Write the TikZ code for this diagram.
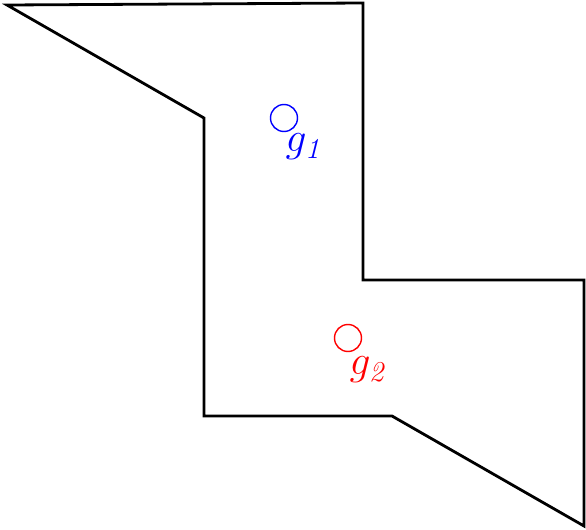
\documentclass[tikz,border=0pt]{standalone}
\begin{document}
\begin{tikzpicture}[x=0.5pt,y=-0.5pt,
  wall/.style={draw=black,line width=1.4pt,line join=miter},
  goal/.style={circle,draw,line width=0.7pt,minimum size=13.5pt,inner sep=0pt},
  glabel/.style={font=\fontsize{20}{22}\selectfont,inner sep=0pt}]
\useasboundingbox (0,0) rectangle (586,530);
\draw[wall] (7,5) -- (363,3) -- (363,280) -- (584,280) -- (584,526) -- (392,416) -- (204,416) -- (204,118) -- cycle;
\node[goal,draw=blue] (c1) at (284,118) {};
\node[glabel,text=blue] (l1) at (305,147) {$g_{\mathit{1}}$};
\node[goal,draw=red] (c2) at (348,338) {};
\node[glabel,text=red] (l2) at (369,370) {$g_{\mathit{2}}$};
\end{tikzpicture}
\end{document}
